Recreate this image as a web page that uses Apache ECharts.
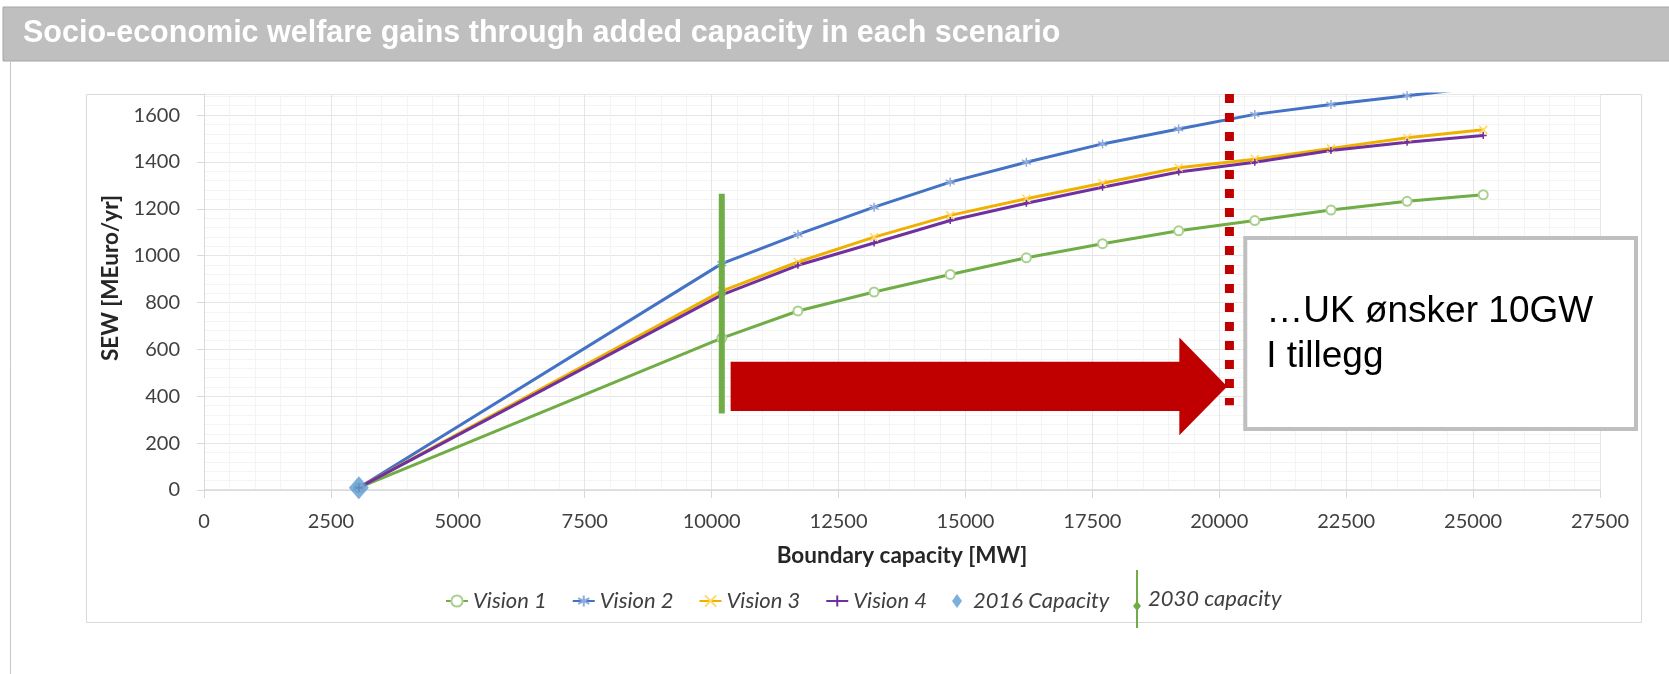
<!DOCTYPE html>
<html><head><meta charset="utf-8">
<script src="https://cdn.jsdelivr.net/npm/echarts@6/dist/echarts.min.js"></script>
<style>html,body{margin:0;padding:0;background:#fff}#c{width:1669px;height:674px}</style>
</head><body><div id="c"></div>
<script>
// ---- data ----
const capacityMW = [3050, 10200, 11700, 13200, 14700, 16200, 17700, 19200, 20700, 22200, 23700, 25200];
const vision1 = [10, 648, 764, 845, 920, 991, 1051, 1106, 1150, 1195, 1232, 1260];
const vision2 = [10, 966, 1091, 1207, 1314, 1399, 1477, 1541, 1603, 1645, 1683, 1720];
const vision3 = [10, 849, 973, 1079, 1172, 1243, 1309, 1375, 1412, 1458, 1503, 1537];
const vision4 = [10, 833, 959, 1054, 1150, 1224, 1292, 1357, 1399, 1449, 1484, 1513];
const capacity2016 = [[3050, 10]];
const capacity2030X = 10200;
const capacity2030Y = [327, 843, 1264];   // low, point, high
const ukTargetX = 20200;
const ukTargetY = [1690, 362];
const xTickValues = [0, 2500, 5000, 7500, 10000, 12500, 15000, 17500, 20000, 22500, 25000, 27500];
const yTickValues = [0, 200, 400, 600, 800, 1000, 1200, 1400, 1600];
const seriesNames = ['Vision 1', 'Vision 2', 'Vision 3', 'Vision 4', '2016 Capacity', '2030 capacity'];
const titleText = 'Socio-economic welfare gains through added capacity in each scenario';
const noteText = '\u2026UK \u00f8nsker 10GW\nI tillegg';
// annotation shapes in data units
const arrowOutline = [[10374, 337], [19213, 337], [19213, 234], [20157, 442], [19213, 651], [19213, 547], [10374, 547]];
const noteBox = { x0: 20512, x1: 28209, y0: 260, y1: 1075 };

const pairs = ys => capacityMW.map((x, i) => [x, ys[i]]);
const FONT = 'Lato';

const asterisk = 'path://M5,0L5,10M0.67,2.5L9.33,7.5M0.67,7.5L9.33,2.5';
const cross = 'path://M0,0L10,10M0,10L10,0';
const plus = 'path://M0,5L10,5M5,2L5,8';

function lineSeries(name, ys, color, symColor, symbol, size) {
  return {
    type: 'line', name, data: pairs(ys), symbol, symbolSize: size, showSymbol: true,
    lineStyle: { color, width: 3 },
    itemStyle: { color: symColor, borderColor: symColor, borderWidth: 1.5 },
    emphasis: { disabled: true }, z: 3
  };
}

const chart = echarts.init(document.getElementById('c'), null, { renderer: 'canvas' });
chart.setOption({
  animation: false,
  backgroundColor: '#fff',
  title: {
    text: titleText, left: 23, top: 18, padding: 0, z: 10,
    textStyle: { color: '#fff', fontFamily: 'Liberation Sans', fontWeight: 'bold', fontSize: 30.5 }
  },
  graphic: [
    { type: 'rect', z: 0, shape: { x: 3, y: 7, width: 1670, height: 54 }, style: { fill: '#bfbfbf', stroke: '#a6a6a6', lineWidth: 1 } },
    { type: 'line', z: 0, shape: { x1: 10.5, y1: 61, x2: 10.5, y2: 674 }, style: { stroke: '#c8c8c8', lineWidth: 1 } },
    { type: 'rect', z: 0, shape: { x: 86.5, y: 94.5, width: 1555, height: 528 }, style: { fill: 'none', stroke: '#d9d9d9', lineWidth: 1 } }
  ],
  grid: { left: 204, right: 69, top: 94, bottom: 184, outerBoundsMode: 'none' },
  legend: [
    {
      data: ['Vision 1', 'Vision 2', 'Vision 3', 'Vision 4', { name: '2016 Capacity', icon: 'path://M5,0L10,7L5,14L0,7Z' }],
      left: 440, top: 585, itemWidth: 22, itemHeight: 14, itemGap: 25, selectedMode: false,
      textStyle: { fontFamily: FONT, fontStyle: 'italic', fontSize: 22, color: '#404040', lineHeight: 22 }
    },
    {
      data: [{ name: '2030 capacity', icon: 'path://M5,0L7,0L7,58L5,58Z M6,31L10,36L6,41L2,36Z' }],
      left: 1128, top: 565, itemWidth: 12, itemHeight: 58, selectedMode: false,
      textStyle: { fontFamily: FONT, fontStyle: 'italic', fontSize: 22, color: '#404040', lineHeight: 22, padding: [14, 0, 0, 0] }
    }
  ],
  xAxis: {
    type: 'value', min: 0, max: 27500, interval: 2500,
    axisLine: { show: true, onZero: false, lineStyle: { color: '#d9d9d9', width: 1.5 } },
    axisTick: { show: true, length: 8, lineStyle: { color: '#d9d9d9' } },
    axisLabel: { fontFamily: FONT, fontSize: 20, color: '#404040', margin: 22,
      formatter: v => xTickValues.includes(v) ? String(v) : '' },
    splitLine: { show: true, lineStyle: { color: '#e6e6e6' } },
    minorTick: { show: false, splitNumber: 5 },
    minorSplitLine: { show: true, lineStyle: { color: '#f4f4f4' } },
    name: 'Boundary capacity [MW]', nameLocation: 'middle', nameGap: 54,
    nameTextStyle: { fontFamily: FONT, fontWeight: 'bold', fontSize: 22.5, color: '#262626' }
  },
  yAxis: {
    type: 'value', min: 0, max: 1690, interval: 200,
    axisLine: { show: true, lineStyle: { color: '#d9d9d9', width: 1 } },
    axisTick: { show: true, length: 7, lineStyle: { color: '#d9d9d9' } },
    axisLabel: { fontFamily: FONT, fontSize: 20, color: '#404040', margin: 24, showMaxLabel: false,
      formatter: v => yTickValues.includes(v) ? String(v) : '' },
    splitLine: { show: true, lineStyle: { color: '#e6e6e6' } },
    minorTick: { show: false, splitNumber: 5 },
    minorSplitLine: { show: true, lineStyle: { color: '#f4f4f4' } },
    name: 'SEW [MEuro/yr]', nameLocation: 'middle', nameGap: 78,
    nameTextStyle: { fontFamily: FONT, fontWeight: 'bold', fontSize: 22.5, color: '#262626', padding: [0, 0, 0, 28] }
  },
  series: [
    lineSeries(seriesNames[0], vision1, '#70ad47', '#a9d18e', 'emptyCircle', 9),
    lineSeries(seriesNames[1], vision2, '#4472c4', '#8faadc', asterisk, 9),
    lineSeries(seriesNames[2], vision3, '#f0b000', '#ffd966', cross, 8),
    lineSeries(seriesNames[3], vision4, '#7030a0', '#7030a0', plus, 7),
    {
      type: 'scatter', name: seriesNames[4], data: capacity2016, symbol: 'diamond', symbolSize: [20, 23],
      symbolKeepAspect: true, itemStyle: { color: '#5b9bd5' }, z: 6, emphasis: { disabled: true }
    },
    {
      type: 'line', name: seriesNames[5], symbol: 'none', showSymbol: true,
      data: [[capacity2030X, capacity2030Y[0]], { value: [capacity2030X, capacity2030Y[1]], symbol: 'diamond', symbolSize: 9 }, [capacity2030X, capacity2030Y[2]]],
      lineStyle: { color: '#70ad47', width: 6, cap: 'butt' }, itemStyle: { color: '#70ad47' }, z: 7,
      emphasis: { disabled: true }
    },
    {
      type: 'line', name: 'UK', data: [[ukTargetX, ukTargetY[0]], [ukTargetX, ukTargetY[1]]], symbol: 'none',
      lineStyle: { color: '#c00000', width: 9, type: [9, 10], cap: 'butt' }, z: 8, emphasis: { disabled: true }
    },
    {
      type: 'custom', name: 'note', coordinateSystem: 'cartesian2d', data: [[0, 0]], silent: true, clip: false, z: 9,
      renderItem: function (params, api) {
        const pts = arrowOutline.map(p => api.coord(p));
        const tl = api.coord([noteBox.x0, noteBox.y1]);
        const br = api.coord([noteBox.x1, noteBox.y0]);
        return {
          type: 'group', children: [
            { type: 'polygon', shape: { points: pts }, style: { fill: '#c00000' } },
            { type: 'rect', shape: { x: tl[0], y: tl[1], width: br[0] - tl[0], height: br[1] - tl[1] },
              style: { fill: '#fff', stroke: '#bfbfbf', lineWidth: 4 } },
            { type: 'text', x: tl[0] + 21, y: tl[1] + 51,
              style: { text: noteText, fill: '#000', font: '37px "Liberation Sans"', lineHeight: 45, verticalAlign: 'top', align: 'left' } }
          ]
        };
      }
    }
  ]
});
</script></body></html>
